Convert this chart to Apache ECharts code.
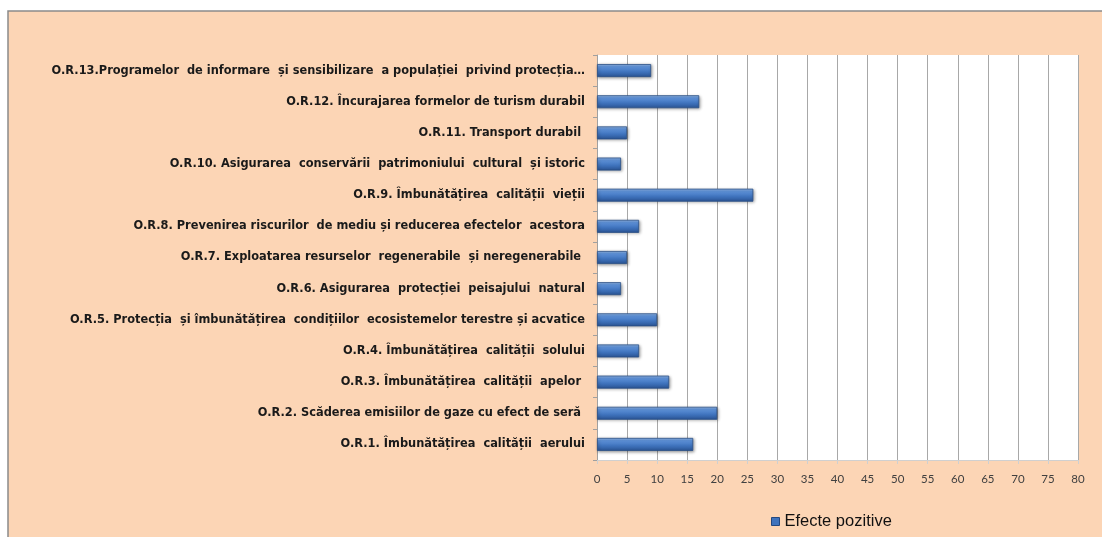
<!DOCTYPE html>
<html>
<head>
<meta charset="utf-8">
<script src="https://cdn.jsdelivr.net/npm/echarts@6/dist/echarts.min.js"></script>
<style>
html,body{margin:0;padding:0;background:#fff;}
#chart{width:1102px;height:537px;}
</style>
</head>
<body>
<div id="chart"></div>
<script>
const categories = [
  "O.R.1. Îmbunătățirea  calității  aerului",
  "O.R.2. Scăderea emisiilor de gaze cu efect de seră ",
  "O.R.3. Îmbunătățirea  calității  apelor ",
  "O.R.4. Îmbunătățirea  calității  solului",
  "O.R.5. Protecția  și îmbunătățirea  condițiilor  ecosistemelor terestre și acvatice",
  "O.R.6. Asigurarea  protecției  peisajului  natural",
  "O.R.7. Exploatarea resurselor  regenerabile  și neregenerabile ",
  "O.R.8. Prevenirea riscurilor  de mediu și reducerea efectelor  acestora",
  "O.R.9. Îmbunătățirea  calității  vieții",
  "O.R.10. Asigurarea  conservării  patrimoniului  cultural  și istoric",
  "O.R.11. Transport durabil ",
  "O.R.12. Încurajarea formelor de turism durabil",
  "O.R.13.Programelor  de informare  și sensibilizare  a populației  privind protecția…"
];
const efectePozitive = [16, 20, 12, 7, 10, 4, 5, 7, 26, 4, 5, 17, 9];
const seriesName = "Efecte pozitive";
const xMin = 0, xMax = 80, xStep = 5;

const chart = echarts.init(document.getElementById('chart'), null, {renderer: 'canvas'});
const barGradient = new echarts.graphic.LinearGradient(0, 0, 0, 1, [
  {offset: 0, color: '#9cc0ee'},
  {offset: 0.2, color: '#5f93da'},
  {offset: 0.6, color: '#3f73bd'},
  {offset: 1, color: '#2a5494'}
]);
chart.setOption({
  backgroundColor: '#ffffff',
  animation: false,
  graphic: [{
    type: 'rect', z: -10, silent: true,
    shape: {x: 8, y: 11, width: 1100, height: 530},
    style: {fill: '#FCD5B5', stroke: '#8a8a8a', lineWidth: 1.5}
  }],
  grid: {
    left: 597, right: 24, top: 55, bottom: 77,
    show: true, backgroundColor: '#ffffff', borderWidth: 0
  },
  legend: {
    data: [seriesName],
    left: 766, top: 508,
    icon: 'rect', itemWidth: 8, itemHeight: 8, itemGap: 4,
    itemStyle: {color: '#3f73bd', borderColor: '#24487f', borderWidth: 1},
    textStyle: {fontFamily: 'Liberation Sans, Arial, sans-serif', fontSize: 16.5, color: '#111'}
  },
  xAxis: {
    type: 'value', min: xMin, max: xMax, interval: xStep,
    axisLine: {show: true, lineStyle: {color: '#d0d0d0', width: 1}},
    axisTick: {show: true, length: 4, lineStyle: {color: '#d0d0d0'}},
    splitLine: {show: true, lineStyle: {color: '#a8a8a8', width: 1}},
    axisLabel: {fontFamily: 'Lato, Open Sans, sans-serif', fontSize: 11.5, color: '#404040', margin: 13}
  },
  yAxis: {
    type: 'category', data: categories,
    axisLine: {show: true, lineStyle: {color: '#a0a0a0', width: 1}},
    axisTick: {show: true, length: 4, alignWithLabel: false, lineStyle: {color: '#a0a0a0'}},
    axisLabel: {
      fontFamily: 'DejaVu Sans, sans-serif', fontWeight: 'bold',
      fontSize: 11.4, color: '#1a1a1a', margin: 12
    }
  },
  series: [{
    name: seriesName, type: 'bar', data: efectePozitive,
    barWidth: 13,
    itemStyle: {color: barGradient, borderColor: '#2a4f86', borderWidth: 0.8,
      shadowColor: 'rgba(0,0,0,0.35)', shadowBlur: 3, shadowOffsetX: 1, shadowOffsetY: 1}
  }]
});
</script>
</body>
</html>
